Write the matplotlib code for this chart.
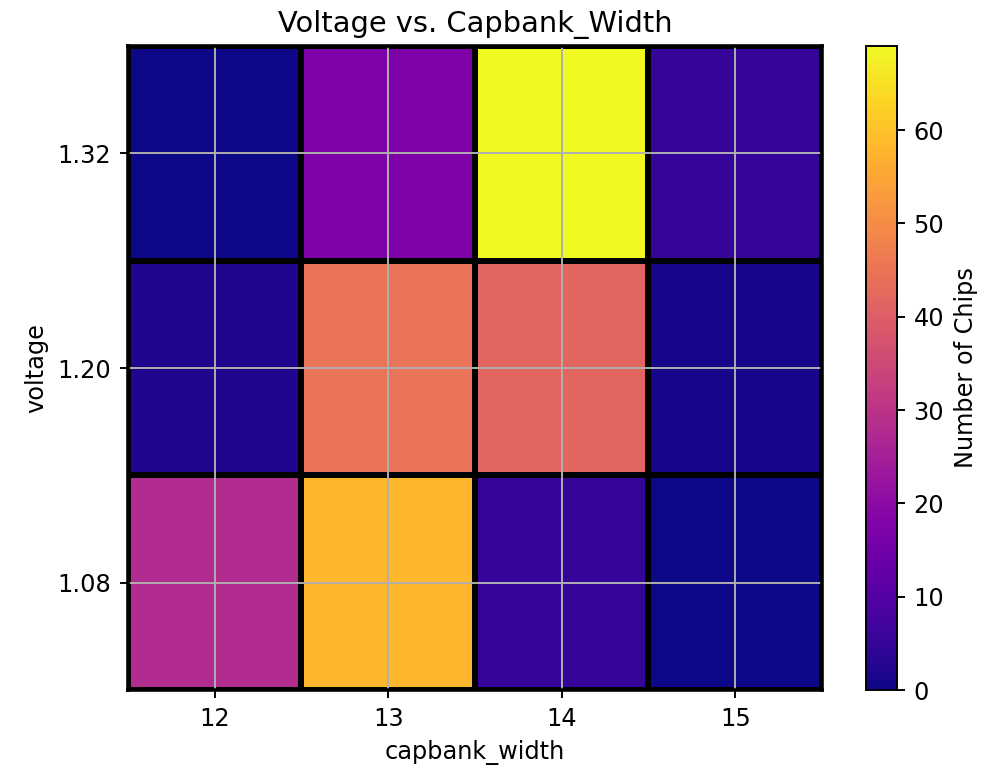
import numpy as np
import matplotlib
matplotlib.use("Agg")
import matplotlib.pyplot as plt

capbank_width = [12, 13, 14, 15]
voltage = [1.08, 1.20, 1.32]
# chip counts, rows follow voltage (low -> high), columns follow capbank_width
chips_108 = [28, 58, 5, 0]
chips_120 = [2, 45, 42, 1]
chips_132 = [0, 17, 69, 5]

counts = np.array([chips_108, chips_120, chips_132])

dpi = 173
fig = plt.figure(figsize=(992 / dpi, 771 / dpi), dpi=dpi)
ax = fig.add_axes([0.129, 0.105, 0.6996, 0.8353])
cax = fig.add_axes([0.873, 0.105, 0.031, 0.8353])

x = np.array(capbank_width, dtype=float)
y = np.array(voltage)
xe = np.concatenate([[x[0] - 0.5], (x[:-1] + x[1:]) / 2, [x[-1] + 0.5]])
dy = y[1] - y[0]
ye = np.concatenate([[y[0] - dy / 2], (y[:-1] + y[1:]) / 2, [y[-1] + dy / 2]])

mesh = ax.pcolormesh(xe, ye, counts, cmap="plasma", vmin=0,
                     edgecolors="k", linewidth=1.7)
ax.set_xticks(x)
ax.set_yticks(y)
ax.set_yticklabels([f"{v:.2f}" for v in voltage])
ax.set_xlim(xe[0], xe[-1])
ax.set_ylim(ye[0], ye[-1])
ax.grid(True)
for s in ax.spines.values():
    s.set_linewidth(1.5)

ax.set_xlabel("capbank_width")
ax.set_ylabel("voltage")
ax.set_title("Voltage vs. Capbank_Width")

cb = fig.colorbar(mesh, cax=cax)
cb.set_label("Number of Chips")

fig.savefig("out.png", dpi=dpi)
